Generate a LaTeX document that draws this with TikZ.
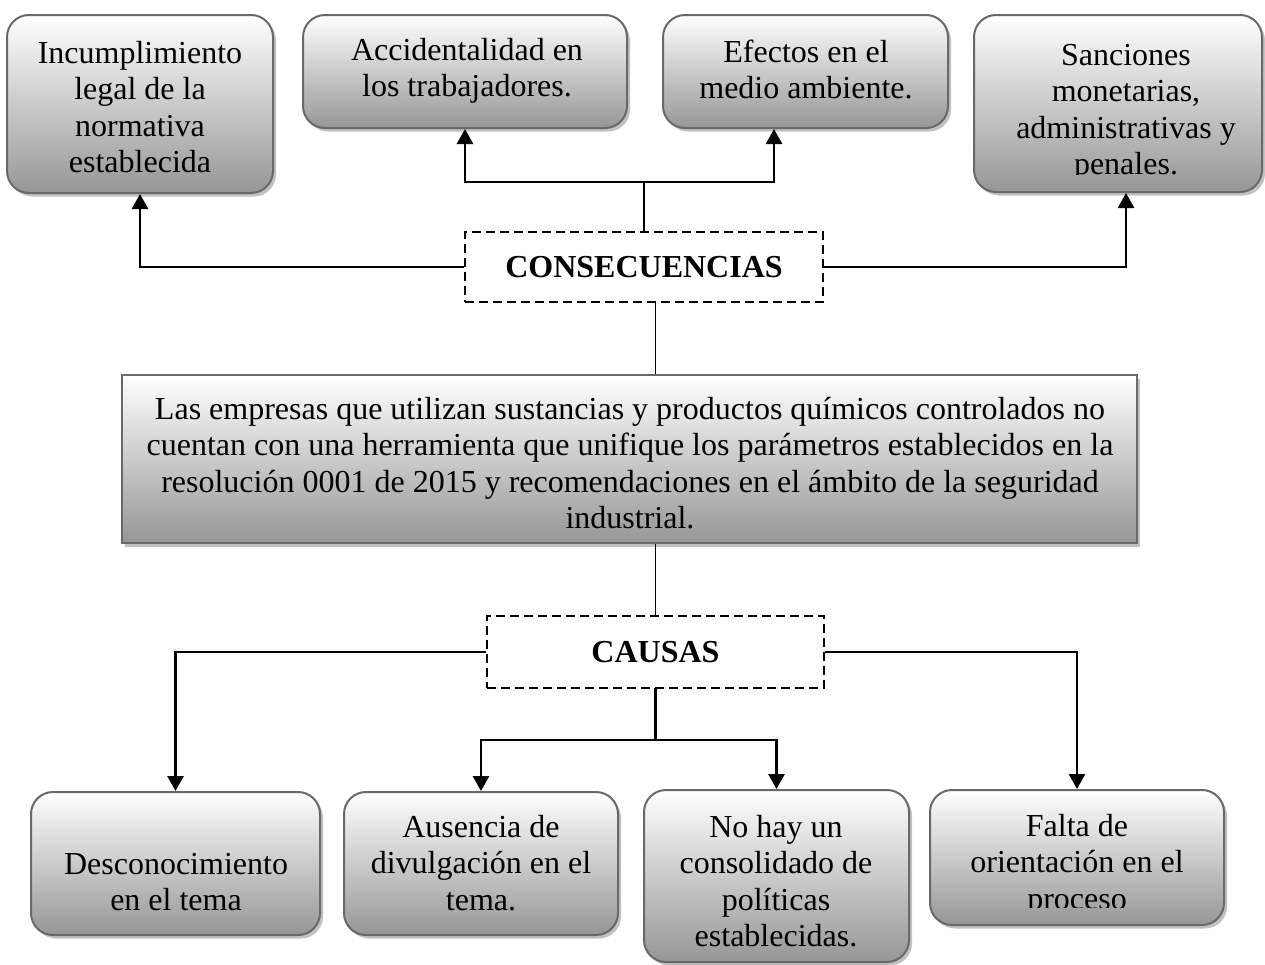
\documentclass[tikz,border=0pt]{standalone}
\usepackage{fontspec}
\setmainfont{Liberation Serif}
\usetikzlibrary{shadows,arrows.meta,calc}
\newcommand\bodyfont{\fontsize{32}{36.5}\selectfont}
\definecolor{boxedge}{RGB}{105,105,105}
\definecolor{boxbottom}{RGB}{150,150,150}
\begin{document}
\begin{tikzpicture}[x=1pt,y=-1pt,
  gbox/.style={draw=boxedge, line width=2pt, rounded corners=22pt,
    top color=white, bottom color=boxbottom,
    drop shadow={shadow xshift=3pt, shadow yshift=-3.5pt, fill=black!30, opacity=.8},
    inner sep=0pt},
  mbox/.style={draw=boxedge, line width=2pt,
    top color=white, bottom color=boxbottom,
    drop shadow={shadow xshift=3pt, shadow yshift=-3.5pt, fill=black!30, opacity=.8},
    inner sep=0pt},
  dbox/.style={draw, line width=2pt, dash pattern=on 9pt off 5pt, fill=white,
    inner sep=0pt, font=\bodyfont\bfseries},
  txt/.style={inner sep=0pt, align=center, font=\bodyfont},
  conn/.style={line width=2.8pt, line cap=rect},
  arr/.style={line width=2.8pt, -{Triangle[width=16pt,length=15pt]}},
  link/.style={line width=1.3pt}]
\useasboundingbox (0,0) rectangle (1265,964);
\fill[white] (0,0) rectangle (1265,964);

% top consequence boxes
\node[gbox, minimum width=266pt, minimum height=178pt] (b1) at (140,104) {};
\node[txt] (t1) at (140,110.45) {\strut Incumplimiento\\legal de la\\normativa\\establecida\strut};
\node[gbox, minimum width=324pt, minimum height=113pt] (b2) at (465,71.5) {};
\node[txt] (t2) at (467,70.95) {\strut Accidentalidad en\\los trabajadores.\strut};
\node[gbox, minimum width=285pt, minimum height=113pt] (b3) at (805.5,71.5) {};
\node[txt] (t3) at (806,72.95) {\strut Efectos en el\\medio ambiente.\strut};
\node[gbox, minimum width=288pt, minimum height=177pt] (b4) at (1118,103.5) {};
\begin{scope}
  \clip (974,10) rectangle (1262,174.5);
  \node[txt] (t4) at (1126,112.45) {\strut Sanciones\\monetarias,\\administrativas y\\penales.\strut};
\end{scope}

% central boxes
\node[dbox, minimum width=358pt, minimum height=70pt] (consec) at (644,267) {CONSECUENCIAS};
\node[mbox, minimum width=1015pt, minimum height=168pt] (main) at (629.5,459) {};
\node[txt] (tm) at (630,466.45) {\strut Las empresas que utilizan sustancias y productos químicos controlados no\\cuentan con una herramienta que unifique los parámetros establecidos en la\\resolución 0001 de 2015 y recomendaciones en el ámbito de la seguridad\\industrial.\strut};
\node[dbox, minimum width=337pt, minimum height=72pt] (causas) at (655.5,652) {CAUSAS};

% bottom cause boxes
\node[gbox, minimum width=289pt, minimum height=143pt] (b5) at (175.5,863.5) {};
\node[txt] (t5) at (176,884.95) {\strut Desconocimiento\\en el tema\strut};
\node[gbox, minimum width=274pt, minimum height=143pt] (b6) at (481,863.5) {};
\node[txt] (t6) at (481,866.2) {\strut Ausencia de\\divulgación en el\\tema.\strut};
\node[gbox, minimum width=265pt, minimum height=172pt] (b7) at (776.5,876) {};
\node[txt] (t7) at (776,884.45) {\strut No hay un\\consolidado de\\políticas\\establecidas.\strut};
\node[gbox, minimum width=294pt, minimum height=135pt] (b8) at (1077,857.5) {};
\begin{scope}
  \clip (930,785) rectangle (1224,907);
  \node[txt] (t8) at (1077,865.2) {\strut Falta de\\orientación en el\\proceso\strut};
\end{scope}

% connectors: consequences
\coordinate (tj) at (644,182);
\draw[conn] (consec.north) -- (tj);
\draw[arr] (tj) -| (b2.south);
\draw[arr] (tj) -| ($(b3.south)+(-31.5,0)$);
\draw[arr] (consec.west) -| (b1.south);
\draw[arr] (consec.east) -| ($(b4.south)+(8,0)$);

% thin links through the central box
\draw[link] (consec.south -| causas.north) -- (main.north -| causas.north);
\draw[link] (main.south -| causas.north) -- (causas.north);

% connectors: causes
\coordinate (bj) at (655.5,740);
\draw[conn] (causas.south) -- (bj);
\draw[arr] (bj) -| (b6.north);
\draw[arr] (bj) -| (b7.north);
\draw[arr] (causas.west) -| (b5.north);
\draw[arr] (causas.east) -| (b8.north);
\end{tikzpicture}
\end{document}
